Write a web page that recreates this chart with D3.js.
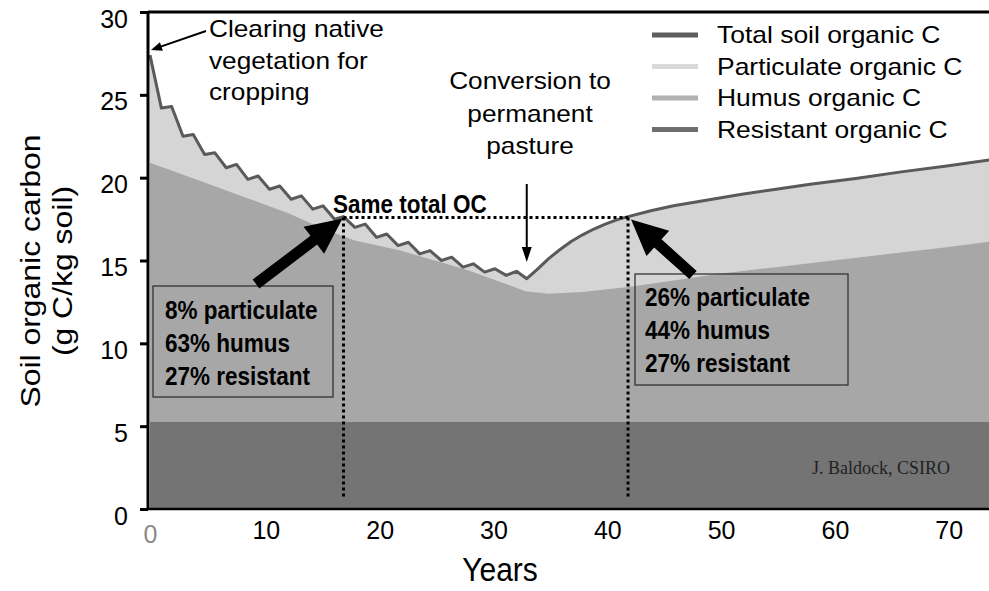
<!DOCTYPE html>
<html>
<head>
    <meta charset="UTF-8">
    <title>Soil organic carbon</title>
    <style>
        body { margin: 0; background: #fff; }
        text { font-family: "Liberation Sans", Arial, sans-serif; }
    </style>
</head>
<body>
    <script src="https://cdn.jsdelivr.net/npm/d3@7"></script>
    <script type="text/javascript">
        // data (g C / kg soil)
        var totalYears = [0, 1.0, 1.9, 2.9, 3.8, 4.8, 5.7, 6.7, 7.6, 8.6, 9.5, 10.5, 11.4, 12.4, 13.3, 14.3, 15.2,
            16.2, 17.0, 18.0, 18.9, 19.9, 20.8, 21.8, 22.7, 23.7, 24.6, 25.6, 26.5, 27.5, 28.4, 29.4, 30.3,
            31.3, 32.2, 33.1, 34, 35, 36, 37, 38, 39, 40, 41, 42, 44, 46, 49, 52, 55, 58, 62, 66, 70, 74];
        var totalC = [27.4, 24.2, 24.3, 22.5, 22.6, 21.4, 21.5, 20.6, 20.8, 19.9, 20.1, 19.3, 19.5, 18.7, 18.9, 18.1, 18.3,
            17.5, 17.65, 17.0, 17.2, 16.4, 16.6, 15.9, 16.1, 15.4, 15.6, 15.0, 15.2, 14.6, 14.8, 14.3, 14.5,
            14.1, 14.35, 13.9, 14.45, 15.1, 15.65, 16.15, 16.55, 16.9, 17.2, 17.45, 17.65, 18.0, 18.3, 18.65, 19.0, 19.3, 19.6, 19.95, 20.35, 20.7, 21.1];
        var humusYears = [0, 2, 4, 6, 8, 10, 12, 14, 16, 18, 20, 22, 24, 26, 28, 30, 32, 33, 35, 38, 42, 46, 50, 55, 60, 65, 70, 74];
        var humusC = [15.65, 15.15, 14.65, 14.15, 13.65, 13.15, 12.65, 12.05, 11.45, 10.95, 10.65, 10.35, 9.95, 9.55, 9.15,
            8.65, 8.15, 7.9, 7.75, 7.85, 8.15, 8.55, 8.95, 9.35, 9.75, 10.15, 10.55, 10.9];
        var resistantYears = [0, 74];
        var resistantC = [5.25, 5.25];

        var yTicks = [0, 5, 10, 15, 20, 25, 30];
        var xTicks = [0, 10, 20, 30, 40, 50, 60, 70];
        var legendNames = ["Total soil organic C", "Particulate organic C", "Humus organic C", "Resistant organic C"];
        var legendColors = ["#5e5e5e", "#d9d9d9", "#b2b2b2", "#6e6e6e"];
        var leftBox = ["8% particulate", "63% humus", "27% resistant"];
        var rightBox = ["26% particulate", "44% humus", "27% resistant"];

        //画布
        var width = 989, height = 591;
        var svg = d3.select("body").append("svg")
            .attr("width", width)
            .attr("height", height);

        var x = d3.scaleLinear().domain([0, 73.8]).range([150, 990]);
        var y = d3.scaleLinear().domain([0, 30]).range([509, 12]);

        svg.append("clipPath").attr("id", "plot")
            .append("rect").attr("x", 148).attr("y", 12).attr("width", 841).attr("height", 497);

        var plot = svg.append("g").attr("clip-path", "url(#plot)");

        var total = totalYears.map(function (t, i) { return [t, totalC[i]]; });
        var humus = humusYears.map(function (t, i) { return [t, humusC[i] + resistantC[0]]; });
        var resistant = resistantYears.map(function (t, i) { return [t, resistantC[i]]; });

        var area = d3.area()
            .x(function (d) { return x(d[0]); })
            .y0(y(0))
            .y1(function (d) { return y(d[1]); });

        // particulate sits between humus and total, so fill total first
        plot.append("path").datum(total).attr("d", area).attr("fill", "#d5d5d5");
        plot.append("path").datum(humus).attr("d", area).attr("fill", "#a7a7a7");
        plot.append("path").datum(resistant).attr("d", area).attr("fill", "#747474");

        plot.append("path").datum(total)
            .attr("d", d3.line().x(function (d) { return x(d[0]); }).y(function (d) { return y(d[1]); }))
            .attr("fill", "none")
            .attr("stroke", "#5a5a5a")
            .attr("stroke-width", 3)
            .attr("stroke-linejoin", "round");

        // stretched text helper
        function label(g, px, py, str, o) {
            o = o || {};
            return g.append("text")
                .attr("transform", "translate(" + px + "," + py + ")" + (o.rotate ? " rotate(" + o.rotate + ")" : "") +
                    " scale(" + (o.sx || 1) + "," + (o.sy || 1) + ")")
                .attr("text-anchor", o.anchor || "start")
                .attr("font-size", o.size || 23)
                .attr("font-weight", o.bold ? "bold" : "normal")
                .attr("fill", o.fill || "#000")
                .style("font-family", o.family || null)
                .text(str);
        }

        // big arrow as a polygon
        function arrow(from, to, shaft, headL, headW, fill) {
            var dx = to[0] - from[0], dy = to[1] - from[1];
            var len = Math.sqrt(dx * dx + dy * dy);
            var ux = dx / len, uy = dy / len, nx = -uy, ny = ux;
            var bx = to[0] - ux * headL, by = to[1] - uy * headL;
            var pts = [
                [from[0] + nx * shaft / 2, from[1] + ny * shaft / 2],
                [bx + nx * shaft / 2, by + ny * shaft / 2],
                [bx + nx * headW / 2, by + ny * headW / 2],
                to,
                [bx - nx * headW / 2, by - ny * headW / 2],
                [bx - nx * shaft / 2, by - ny * shaft / 2],
                [from[0] - nx * shaft / 2, from[1] - ny * shaft / 2]
            ];
            svg.append("path").attr("d", d3.line()(pts) + "Z").attr("fill", fill || "#000");
        }

        // dotted guides at equal total OC
        var yrA = 17.0, yrB = 42.0, sameC = 17.6;
        var dots = svg.append("g")
            .attr("stroke", "#000")
            .attr("stroke-width", 3)
            .attr("stroke-dasharray", "3,3")
            .attr("fill", "none");
        dots.append("line").attr("x1", x(yrA)).attr("x2", x(yrB)).attr("y1", y(sameC)).attr("y2", y(sameC));
        dots.append("line").attr("x1", x(yrA)).attr("x2", x(yrA)).attr("y1", y(sameC)).attr("y2", y(0.6));
        dots.append("line").attr("x1", x(yrB)).attr("x2", x(yrB)).attr("y1", y(sameC)).attr("y2", y(0.7));

        // axes frame
        var frame = svg.append("g").attr("stroke", "#000").attr("fill", "none");
        frame.append("line").attr("x1", 148).attr("x2", 989).attr("y1", 12).attr("y2", 12).attr("stroke-width", 3);
        frame.append("line").attr("x1", 148).attr("x2", 148).attr("y1", 11).attr("y2", 510).attr("stroke-width", 3);
        frame.append("line").attr("x1", 148).attr("x2", 989).attr("y1", 509).attr("y2", 509).attr("stroke-width", 2.5);

        var yAxis = svg.append("g")
            .attr("transform", "translate(148,0)")
            .call(d3.axisLeft(y).tickValues(yTicks).tickSize(8).tickPadding(12));
        yAxis.select(".domain").remove();
        yAxis.selectAll(".tick line").attr("stroke", "#000").attr("stroke-width", 3);
        yAxis.selectAll(".tick text").attr("font-size", 25).attr("y", 7)
            .style("font-family", "'Liberation Sans', Arial, sans-serif").attr("fill", "#000");

        var xAxis = svg.append("g")
            .attr("transform", "translate(0,509)")
            .call(d3.axisBottom(x).tickValues(xTicks).tickSize(0));
        xAxis.select(".domain").remove();
        xAxis.selectAll(".tick text").attr("font-size", 25).attr("dy", null).attr("y", 30).attr("dx", 2)
            .style("font-family", "'Liberation Sans', Arial, sans-serif")
            .attr("fill", function (d) { return d === 0 ? "#8a8a8a" : "#000"; })
            .filter(function (d) { return d === 0; }).attr("y", 34).attr("dx", 0);

        // axis titles
        label(svg, 500, 581, "Years", { anchor: "middle", size: 30, sy: 1.08 });
        label(svg, 40, 271, "Soil organic carbon", { anchor: "middle", size: 28, sx: 1.14, rotate: -90 });
        label(svg, 72, 271, "(g C/kg soil)", { anchor: "middle", size: 28, sx: 1.14, rotate: -90 });

        // legend
        var leg = svg.append("g");
        legendNames.forEach(function (name, i) {
            var cy = 35 + i * 31.5;
            leg.append("line").attr("x1", 652).attr("x2", 698).attr("y1", cy).attr("y2", cy)
                .attr("stroke", legendColors[i]).attr("stroke-width", 5);
            label(leg, 717, cy + 8, name, { sx: 1.15 });
        });

        // annotations
        ["Clearing native", "vegetation for", "cropping"].forEach(function (s, i) {
            label(svg, 209, 37 + i * 31.5, s, { sx: 1.14 });
        });
        ["Conversion to", "permanent", "pasture"].forEach(function (s, i) {
            label(svg, 530, 89 + i * 32.5, s, { sx: 1.14, anchor: "middle" });
        });
        arrow([206, 31], [151, 50], 2, 11, 9);
        arrow([x(33.1), 184], [x(33.1), 262], 2, 15, 10);

        label(svg, 333, 213, "Same total OC", { bold: true, size: 25, sx: 0.9 });

        svg.append("rect").attr("x", 153).attr("y", 286).attr("width", 180).attr("height", 111)
            .attr("fill", "none").attr("stroke", "#333").attr("stroke-width", 1.3);
        leftBox.forEach(function (s, i) {
            label(svg, 165, 319 + i * 33, s, { bold: true, size: 25, sx: 0.9 });
        });
        svg.append("rect").attr("x", 635).attr("y", 274).attr("width", 213).attr("height", 111)
            .attr("fill", "none").attr("stroke", "#333").attr("stroke-width", 1.3);
        rightBox.forEach(function (s, i) {
            label(svg, 645, 306 + i * 33, s, { bold: true, size: 25, sx: 0.9 });
        });

        arrow([256, 284], [x(yrA) - 1, y(sameC) + 1], 11, 36, 34);
        arrow([693, 275], [x(yrB) + 3, y(sameC) + 2], 11, 36, 34);

        label(svg, 812, 474, "J. Baldock, CSIRO", { size: 18, family: "'Liberation Serif', 'Times New Roman', serif", fill: "#222" });
    </script>
</body>
</html>
